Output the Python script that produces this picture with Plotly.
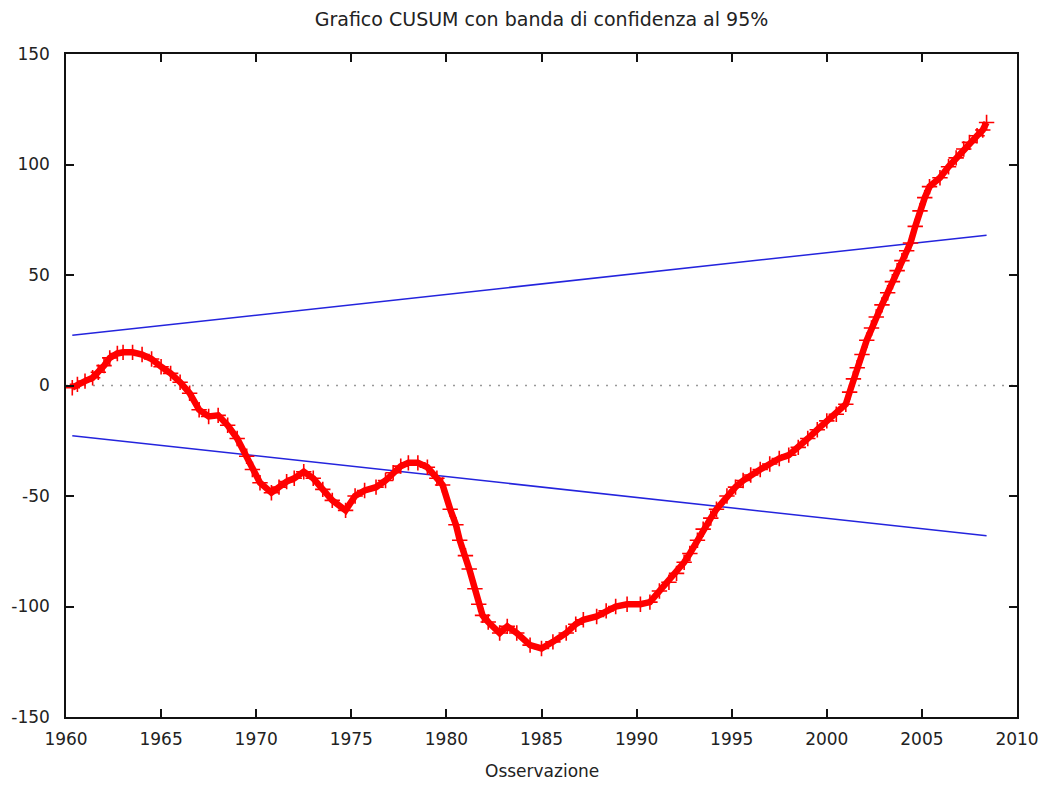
import plotly.graph_objects as go

# CUSUM path (decimal year, cumulative sum of recursive residuals)
years = [
    1960.33, 1960.6, 1961.0, 1961.4, 1961.7, 1962.0, 1962.3, 1962.7, 1963.0, 1963.5,
    1964.0, 1964.5, 1965.0, 1965.5, 1966.0, 1966.5, 1967.0, 1967.5, 1968.0, 1968.5,
    1969.0, 1969.5, 1969.8, 1970.2, 1970.8, 1971.2, 1971.6, 1972.0, 1972.5, 1973.0,
    1973.5, 1974.0, 1974.7, 1975.2, 1975.7, 1976.3, 1976.8, 1977.2, 1977.6, 1978.0,
    1978.5, 1979.0, 1979.5, 1979.8, 1980.2, 1980.5, 1980.7, 1981.0, 1981.2, 1981.5,
    1981.7, 1981.9, 1982.2, 1982.8, 1983.2, 1983.7, 1984.4, 1985.0, 1985.6, 1986.3,
    1986.8, 1987.2, 1987.9, 1988.4, 1988.9, 1989.5, 1990.2, 1990.7, 1991.2, 1991.7,
    1992.1, 1992.5, 1992.8, 1993.2, 1993.5, 1993.9, 1994.2, 1994.75, 1995.2, 1995.6,
    1996.0, 1996.5, 1997.0, 1997.5, 1998.0, 1998.5, 1999.0, 1999.5, 2000.0, 2000.5,
    2001.0, 2001.2, 2001.4, 2001.6, 2001.85, 2002.1, 2002.35, 2002.6, 2002.9, 2003.2,
    2003.45, 2003.7, 2003.95, 2004.2, 2004.4, 2004.65, 2004.9, 2005.15, 2005.4, 2005.95,
    2006.4, 2006.8, 2007.2, 2007.5, 2007.9, 2008.2, 2008.4,
]
cusum = [
    -1.0, 0.5, 2.0, 3.5, 6.0, 9.0, 12.5, 14.5, 15.0, 15.0,
    14.0, 12.0, 8.5, 5.5, 1.5, -3.5, -11.0, -14.0, -13.5, -18.0,
    -24.0, -32.0, -38.0, -44.0, -48.5, -46.0, -43.5, -42.0, -39.0, -42.0,
    -47.0, -52.0, -56.5, -50.0, -47.5, -46.0, -43.0, -39.5, -36.5, -35.0,
    -35.0, -37.0, -42.0, -45.0, -56.0, -63.0, -70.0, -77.0, -83.0, -92.0,
    -99.0, -104.0, -107.0, -112.0, -109.0, -112.0, -117.5, -119.0, -116.0, -112.0,
    -108.0, -106.0, -104.5, -102.0, -100.0, -99.0, -99.0, -98.0, -93.0, -89.0,
    -85.0, -80.0, -76.0, -70.0, -65.0, -60.0, -56.0, -50.0, -46.0, -43.0,
    -40.5, -38.0, -35.5, -33.0, -31.5, -28.0, -24.0, -20.0, -16.0, -13.0,
    -8.5, -3.0, 3.0, 8.0, 14.0, 20.5, 26.0, 31.0, 36.5, 42.0,
    47.0, 52.0, 56.5, 61.0, 64.5, 72.0, 79.0, 85.0, 90.0, 94.0,
    99.0, 103.0, 107.0, 110.0, 113.0, 115.6, 119.0,
]

# 95% confidence band end points
band_years = [1960.33, 2008.4]
band_upper = [22.7, 68.0]
band_lower = [-22.7, -68.0]

x_ticks = [1960, 1965, 1970, 1975, 1980, 1985, 1990, 1995, 2000, 2005, 2010]
y_ticks = [-150, -100, -50, 0, 50, 100, 150]

FONT = "DejaVu Sans"
TEXT_COLOR = "#222222"

fig = go.Figure()

for band in (band_upper, band_lower):
    fig.add_trace(go.Scatter(
        x=band_years, y=band, mode="lines",
        line=dict(color="#2424dd", width=1.5), showlegend=False,
    ))

fig.add_trace(go.Scatter(
    x=years, y=cusum, mode="lines+markers",
    line=dict(color="#ff0000", width=6.5),
    marker=dict(symbol="cross-thin", size=11, color="#ff0000",
                line=dict(color="#ff0000", width=1.6)),
    showlegend=False,
))

# dotted zero axis
fig.add_shape(type="line", xref="paper", yref="y", x0=0, x1=1, y0=0, y1=0,
              line=dict(color="#999999", width=1.3, dash="2px,7px"), layer="below")

axis_common = dict(
    showgrid=False, zeroline=False, showline=True, linecolor="#111111",
    linewidth=1.5, mirror="ticks", ticks="inside", ticklen=8, tickwidth=1.5,
    tickcolor="#111111", tickfont=dict(family=FONT, size=17, color=TEXT_COLOR),
)

fig.update_xaxes(range=[1960, 2010], tickvals=x_ticks, ticktext=[str(v) for v in x_ticks],
                 ticklabelstandoff=6, **axis_common)
fig.update_yaxes(range=[-150, 150], tickvals=y_ticks, ticktext=[str(v) for v in y_ticks],
                 ticklabelstandoff=11, **axis_common)

fig.add_annotation(text="Osservazione", xref="paper", yref="paper", x=0.5, y=-0.064,
                   xanchor="center", yanchor="top", showarrow=False,
                   font=dict(family=FONT, size=17, color=TEXT_COLOR))

fig.update_layout(
    width=1048, height=785,
    margin=dict(l=66, r=31, t=54, b=68, autoexpand=False),
    paper_bgcolor="white", plot_bgcolor="white",
    title=dict(text="Grafico CUSUM con banda di confidenza al 95%",
               x=0.5, xref="paper", xanchor="center",
               y=1 - 19 / 785, yref="container", yanchor="middle",
               font=dict(family=FONT, size=19, color=TEXT_COLOR)),
)

fig.write_html("out.html")
